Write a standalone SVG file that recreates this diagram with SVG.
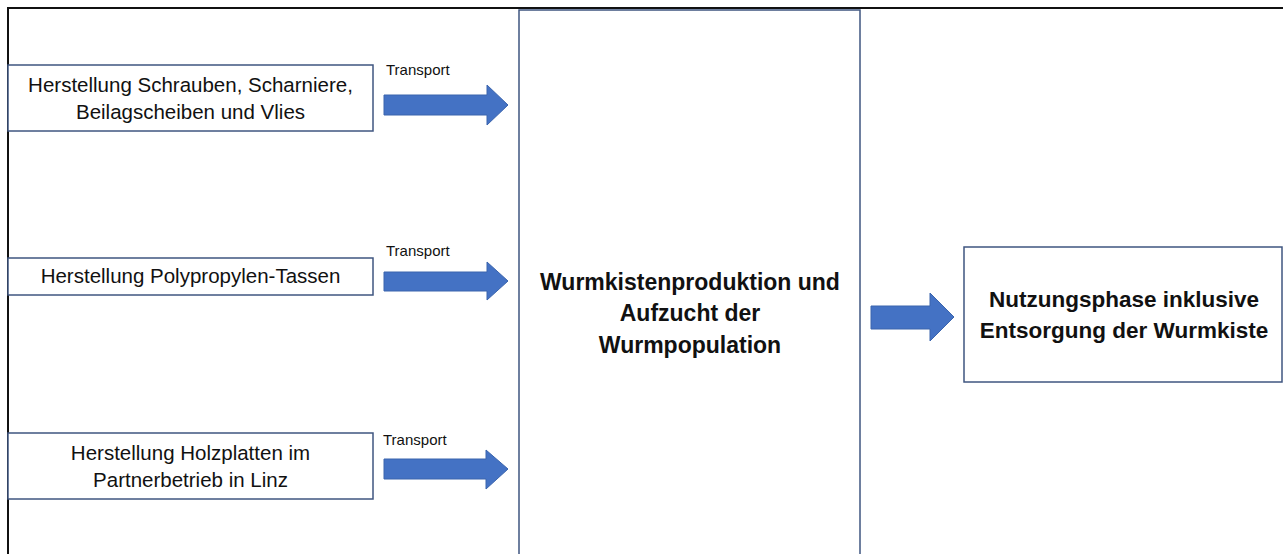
<svg xmlns="http://www.w3.org/2000/svg" width="1283" height="554" viewBox="0 0 1283 554">
<defs>
<style>
.frame{fill:none;stroke:#111;stroke-width:2}
.box{fill:#fff;stroke:#3f5680;stroke-width:1.5}
.arrow{fill:#4472C4;stroke:#3a64ad;stroke-width:1}
.t{font-family:"Liberation Sans",Arial,sans-serif;font-size:20.5px;fill:#111;text-anchor:middle}
.b{font-family:"Liberation Sans",Arial,sans-serif;font-size:23px;font-weight:bold;fill:#111;text-anchor:middle}
.b2{font-family:"Liberation Sans",Arial,sans-serif;font-size:22.5px;font-weight:bold;fill:#111;text-anchor:middle}
.s{font-family:"Liberation Sans",Arial,sans-serif;font-size:15px;fill:#111}
</style>
</defs>
<rect width="1283" height="554" fill="#fff"/>
<g id="frame">
<path class="frame" d="M8,560 V8 H1290"/>
</g>
<g id="center-node">
<rect class="box" x="519" y="10" width="341" height="560"/>
<text class="b" x="690" y="290">Wurmkistenproduktion und</text>
<text class="b" x="690" y="321">Aufzucht der</text>
<text class="b" x="690" y="353">Wurmpopulation</text>
</g>
<g id="node-schrauben">
<rect class="box" x="8" y="65" width="365" height="66"/>
<text class="t" x="190.5" y="92">Herstellung Schrauben, Scharniere,</text>
<text class="t" x="190.5" y="119">Beilagscheiben und Vlies</text>
</g>
<g id="node-polypropylen">
<rect class="box" x="8" y="258" width="365" height="37"/>
<text class="t" x="190.5" y="283">Herstellung Polypropylen-Tassen</text>
</g>
<g id="node-holzplatten">
<rect class="box" x="8" y="433" width="365" height="66"/>
<text class="t" x="190.5" y="460">Herstellung Holzplatten im</text>
<text class="t" x="190.5" y="487">Partnerbetrieb in Linz</text>
</g>
<g id="node-nutzung">
<rect class="box" x="964" y="247" width="318" height="135"/>
<text class="b2" x="1124" y="307">Nutzungsphase inklusive</text>
<text class="b2" x="1124" y="338">Entsorgung der Wurmkiste</text>
</g>
<g id="connectors">
<path class="arrow" d="M384,95 H487 V85 L508,105 L487,125 V115 H384 Z"/>
<text class="s" x="386" y="75">Transport</text>
<path class="arrow" d="M384,272 H487 V262 L508,281 L487,300 V291 H384 Z"/>
<text class="s" x="386" y="256">Transport</text>
<path class="arrow" d="M384,459 H486 V450 L508,469 L486,489 V479 H384 Z"/>
<text class="s" x="383" y="445">Transport</text>
<path class="arrow" d="M871,306 H930 V293 L954,317 L930,341 V329 H871 Z"/>
</g>
</svg>
